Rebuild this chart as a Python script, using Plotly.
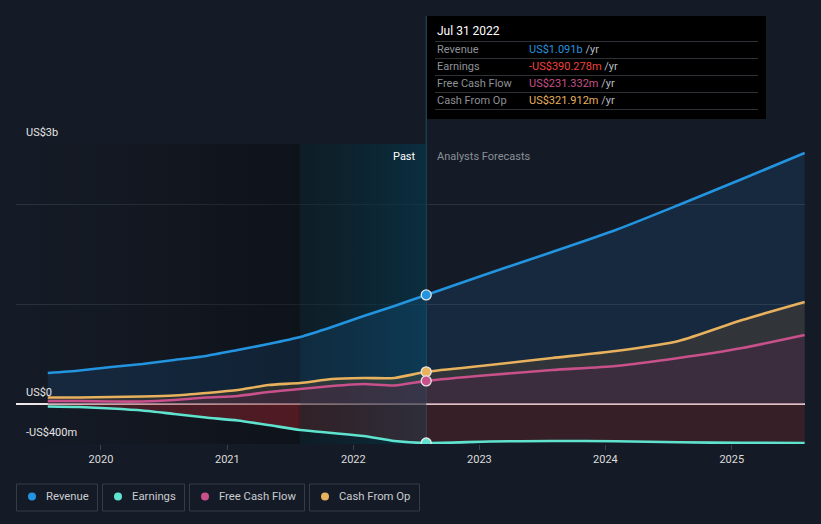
import plotly.graph_objects as go

# ---------------- data (US$ billions) ----------------
dates = ["2019-07-31", "2019-10-31", "2020-01-31", "2020-04-30", "2020-07-31",
         "2020-10-31", "2021-01-31", "2021-04-30", "2021-07-31", "2021-10-31",
         "2022-01-31", "2022-04-30", "2022-07-31", "2023-01-31", "2023-07-31",
         "2024-01-31", "2024-07-31", "2025-01-31", "2025-07-31"]
revenue = [0.31, 0.335, 0.37, 0.40, 0.44, 0.48, 0.54, 0.60, 0.67, 0.77, 0.88, 0.98,
           1.091, 1.31, 1.52, 1.74, 1.99, 2.25, 2.51]
earnings = [-0.025, -0.03, -0.045, -0.065, -0.10, -0.135, -0.165, -0.21, -0.26, -0.29,
            -0.32, -0.37, -0.390, -0.375, -0.37, -0.372, -0.383, -0.388, -0.39]
fcf = [0.03, 0.03, 0.025, 0.025, 0.04, 0.065, 0.08, 0.12, 0.15, 0.18, 0.20, 0.185,
       0.231, 0.29, 0.34, 0.38, 0.46, 0.56, 0.69]
cfo = [0.065, 0.065, 0.07, 0.075, 0.085, 0.11, 0.14, 0.19, 0.21, 0.25, 0.26, 0.26,
       0.322, 0.39, 0.46, 0.53, 0.63, 0.84, 1.02]

series_names = ["Revenue", "Earnings", "Free Cash Flow", "Cash From Op"]
series_colors = ["#2394df", "#5fe3cf", "#c8508b", "#e8b15e"]
tooltip_date = "Jul 31 2022"
tooltip_values = ["US$1.091b", "-US$390.278m", "US$231.332m", "US$321.912m"]
tooltip_value_colors = ["#2394df", "#f0413c", "#c8508b", "#e8b15e"]
year_ticks = ["2020-01-01", "2021-01-01", "2022-01-01", "2023-01-01", "2024-01-01", "2025-01-01"]
year_labels = ["2020", "2021", "2022", "2023", "2024", "2025"]
y_labels = ["US$3b", "US$0", "-US$400m"]
now_date = "2022-07-31"
past_start = "2021-07-31"
x_range = ["2019-04-30", "2025-08-01"]
y_range = [-0.4, 2.6]

BG = "#151b26"
FONT = "Roboto"

# pixel helpers (plot area in pixels)
PL, PR, PT, PB = 16, 805, 144, 444
def px(x):
    return (x - PL) / (PR - PL)
def py(y):
    return (PB - y) / (PB - PT)

fig = go.Figure()

# darkening gradient over earlier history
fig.add_trace(go.Scatter(
    x=[x_range[0], past_start, past_start, x_range[0], x_range[0]],
    y=[y_range[0], y_range[0], y_range[1], y_range[1], y_range[0]],
    mode="none", fill="toself", hoverinfo="skip", showlegend=False,
    fillgradient=dict(type="horizontal",
                      colorscale=[[0, "rgba(0,0,0,0)"], [1, "rgba(0,0,0,0.32)"]]),
))
# teal "past" highlight
fig.add_trace(go.Scatter(
    x=[past_start, now_date, now_date, past_start, past_start],
    y=[y_range[0], y_range[0], y_range[1], y_range[1], y_range[0]],
    mode="none", fill="toself", hoverinfo="skip", showlegend=False,
    fillgradient=dict(type="horizontal",
                      colorscale=[[0, "rgba(7,31,38,0.5)"], [1, "rgba(5,56,76,0.66)"]]),
))

fills = ["rgba(33,150,243,0.12)", "rgba(171,47,43,0.22)",
         "rgba(88,26,74,0.28)", "rgba(131,90,41,0.25)"]
values = [revenue, earnings, fcf, cfo]
order = [0, 3, 2, 1]
for i in order:
    kw = {}
    if i == 1:
        # earnings area is stronger red over the history before the highlighted year
        kw["fillgradient"] = dict(type="horizontal", colorscale=[
            [0, "rgba(190,40,50,0.26)"], [0.33, "rgba(200,40,50,0.36)"],
            [0.335, "rgba(171,47,43,0.22)"], [1, "rgba(171,47,43,0.22)"]])
    fig.add_trace(go.Scatter(
        x=dates, y=values[i], mode="lines", name=series_names[i],
        line=dict(color=series_colors[i], width=2.6, shape="spline", smoothing=0.6),
        fill="tozeroy", fillcolor=fills[i], hoverinfo="skip", showlegend=False, **kw
    ))

# markers at the current date
now_idx = dates.index(now_date)
for i in order:
    fig.add_trace(go.Scatter(
        x=[now_date], y=[values[i][now_idx]], mode="markers",
        marker=dict(color=series_colors[i], size=10,
                    line=dict(color="#e6e6e6", width=1.3)),
        hoverinfo="skip", showlegend=False,
    ))

shapes = []
annotations = []

# now line extending up to tooltip
shapes.append(dict(type="line", xref="x", yref="paper", x0=now_date, x1=now_date,
                   y0=0, y1=py(16), line=dict(color="rgba(40,110,140,0.6)", width=1),
                   layer="below"))

# tooltip box
shapes.append(dict(type="rect", xref="paper", yref="paper",
                   x0=px(427), x1=px(766), y0=py(119), y1=py(16),
                   fillcolor="#000000", line=dict(width=0)))
annotations.append(dict(xref="paper", yref="paper", x=px(435), y=py(31),
                        text=tooltip_date, showarrow=False, xanchor="left", yanchor="middle",
                        font=dict(family=FONT, size=12, color="#ffffff")))
for k, yline in enumerate([41.5, 58.5, 75.5, 92.5, 109.5]):
    shapes.append(dict(type="line", xref="paper", yref="paper",
                       x0=px(435), x1=px(758), y0=py(yline), y1=py(yline),
                       line=dict(color="#2e3136", width=1)))
for k in range(4):
    yc = 49.5 + 17 * k
    annotations.append(dict(xref="paper", yref="paper", x=px(435), y=py(yc),
                            text=series_names[k], showarrow=False, xanchor="left",
                            yanchor="middle",
                            font=dict(family=FONT, size=11, color="#8e9196")))
    annotations.append(dict(xref="paper", yref="paper", x=px(527), y=py(yc),
                            text=f"<span style='color:{tooltip_value_colors[k]}'>{tooltip_values[k]}</span> /yr",
                            showarrow=False, xanchor="left", yanchor="middle",
                            font=dict(family=FONT, size=11, color="#b8bbc0")))

# Past / Analysts Forecasts
annotations.append(dict(xref="paper", yref="paper", x=px(418), y=py(156), text="Past",
                        showarrow=False, xanchor="right", yanchor="middle",
                        font=dict(family=FONT, size=11, color="#ffffff")))
annotations.append(dict(xref="paper", yref="paper", x=px(435), y=py(156),
                        text="Analysts Forecasts", showarrow=False, xanchor="left",
                        yanchor="middle", font=dict(family=FONT, size=11, color="#8a8f97")))

# y labels
for lab, yc in zip(y_labels, [132.5, 392, 432.5]):
    annotations.append(dict(xref="paper", yref="paper", x=px(24), y=py(yc), text=lab,
                            showarrow=False, xanchor="left", yanchor="middle",
                            font=dict(family=FONT, size=11, color="#e4e4e4")))

# custom legend
legend_boxes = [(16, 98), (102, 185), (189, 305), (309, 420)]
for k, (x0, x1) in enumerate(legend_boxes):
    shapes.append(dict(type="rect", xref="paper", yref="paper",
                       x0=px(x0 + 0.5), x1=px(x1 - 0.5), y0=py(511), y1=py(484),
                       line=dict(color="#363c46", width=1), fillcolor="rgba(0,0,0,0)"))
    cx, cy = x0 + 16, 496.5
    shapes.append(dict(type="circle", xref="paper", yref="paper",
                       x0=px(cx - 4), x1=px(cx + 4), y0=py(cy + 4), y1=py(cy - 4),
                       fillcolor=series_colors[k], line=dict(width=0)))
    annotations.append(dict(xref="paper", yref="paper", x=px(x0 + 28), y=py(cy),
                            text=series_names[k], showarrow=False, xanchor="left",
                            yanchor="middle",
                            font=dict(family=FONT, size=11.3, color="#c9cbcf")))

fig.update_layout(
    width=821, height=524,
    margin=dict(l=PL, r=821 - PR, t=PT, b=524 - PB, autoexpand=False),
    paper_bgcolor=BG, plot_bgcolor=BG,
    showlegend=False,
    shapes=shapes, annotations=annotations,
    font=dict(family=FONT),
    xaxis=dict(type="date", range=x_range, tickvals=year_ticks, ticktext=year_labels,
               showgrid=False, zeroline=False, ticks="outside", ticklen=5,
               tickcolor="#3a414b", tickwidth=1,
               tickfont=dict(family=FONT, size=11, color="#dcdcdc"), showline=False,
               fixedrange=True),
    yaxis=dict(range=y_range, tickvals=[-0.4, 0, 1, 2, 2.6], showticklabels=False,
               showgrid=True, gridcolor="#2b323c", gridwidth=1,
               zeroline=True, zerolinecolor="#f2eaea", zerolinewidth=1.5,
               fixedrange=True),
)

fig.write_html(
    "out.html",
    config={"displayModeBar": False},
    post_script="document.body.style.margin='0';document.body.style.overflow='hidden';"
                "document.body.style.background='" + BG + "';",
)
